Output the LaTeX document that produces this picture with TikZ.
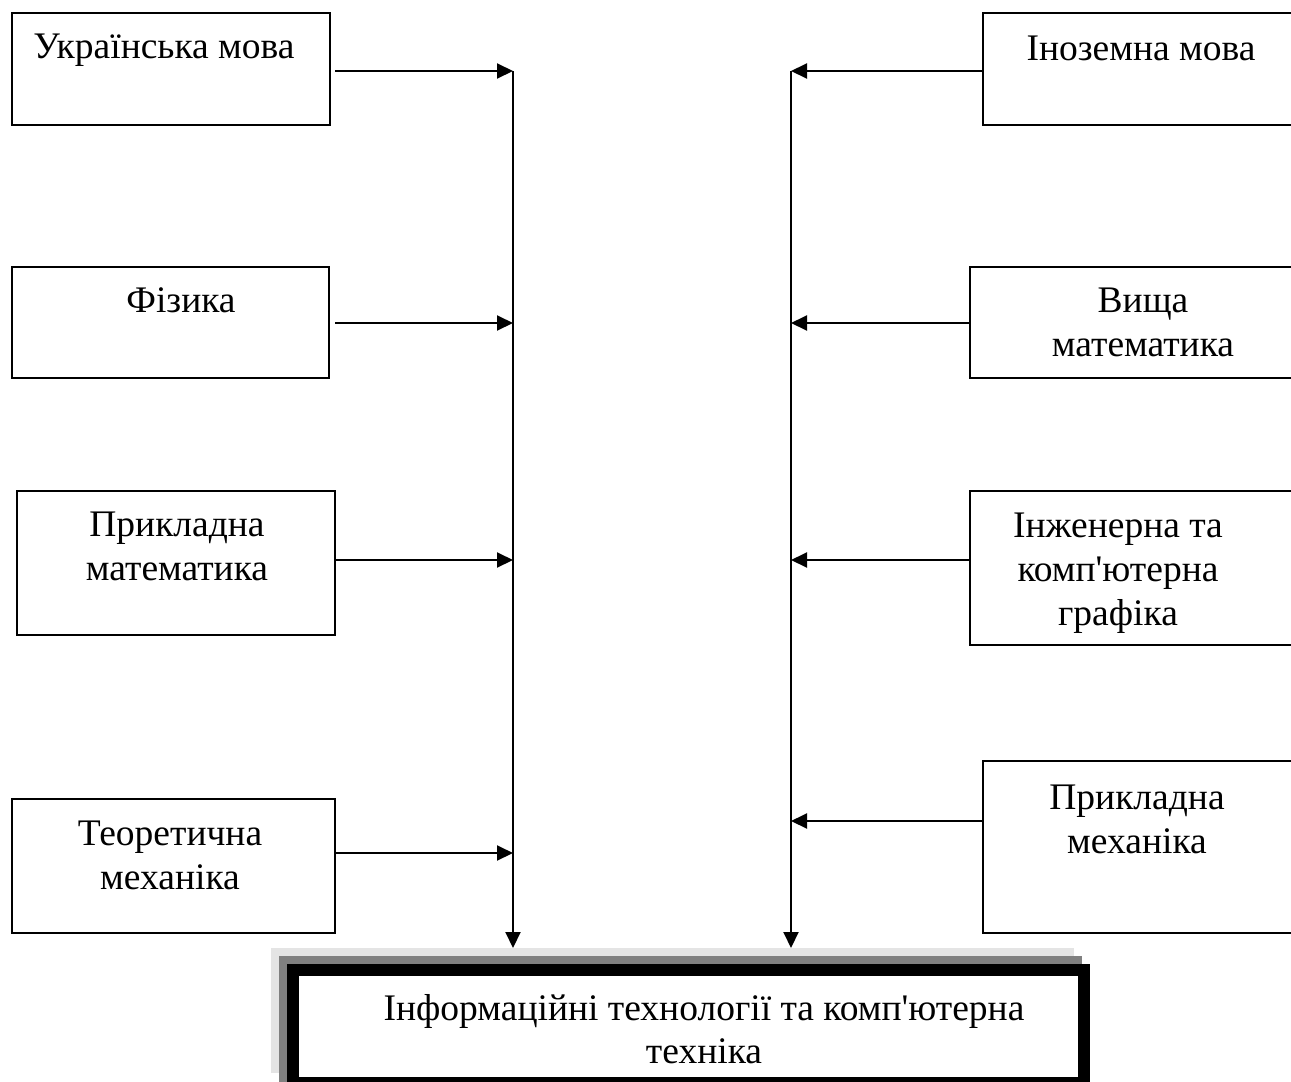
\documentclass[tikz,border=0pt]{standalone}
\usepackage{fontspec}
\setmainfont{Liberation Serif}
\usetikzlibrary{arrows.meta}
\definecolor{shlight}{HTML}{E4E4E4}
\definecolor{shdark}{HTML}{808080}
\begin{document}
\begin{tikzpicture}[x=1pt,y=-1pt,
  box/.style={draw, line width=2pt, inner sep=0pt, outer sep=0pt},
  lbl/.style={inner sep=0pt, anchor=north, align=center, font=\fontsize{37.5}{44}\selectfont, execute at begin node=\strut},
  arr/.style={line width=2pt, -{Triangle[length=16pt,width=15pt]}},
  trunk/.style={line width=2pt}]
\useasboundingbox (0,0) rectangle (1291,1082);
\clip (0,0) rectangle (1291,1082);
% left boxes
\node[box, minimum width=318pt, minimum height=112pt] (L1) at (171,69) {};
\node[box, minimum width=317pt, minimum height=111pt] (L2) at (170.5,322.5) {};
\node[box, minimum width=318pt, minimum height=144pt] (L3) at (176,563) {};
\node[box, minimum width=323pt, minimum height=134pt] (L4) at (173.5,866) {};
% right boxes
\node[box, minimum width=317pt, minimum height=112pt] (R1) at (1141.5,69) {};
\node[box, minimum width=330pt, minimum height=111pt] (R2) at (1135,322.5) {};
\node[box, minimum width=330pt, minimum height=154pt] (R3) at (1135,568) {};
\node[box, minimum width=317pt, minimum height=172pt] (R4) at (1141.5,847) {};
% labels
\node[lbl] (tL1) at (164,27) {Українська мова};
\node[lbl] (tL2) at (181,281) {Фізика};
\node[lbl] (tL3) at (177,512) {Прикладна\\математика};
\node[lbl] (tL4) at (170,821) {Теоретична\\механіка};
\node[lbl] (tR1) at (1141,29) {Іноземна мова};
\node[lbl] (tR2) at (1143,288) {Вища\\математика};
\node[lbl] (tR3) at (1118,513) {Інженерна та\\комп\textquotesingle ютерна\\графіка};
\node[lbl] (tR4) at (1137,785) {Прикладна\\механіка};
% bottom box with shadows
\node[fill=shlight, inner sep=0pt, outer sep=0pt, minimum width=803pt, minimum height=125pt] (S1) at (672.5,1010.5) {};
\node[fill=shdark, inner sep=0pt, outer sep=0pt, minimum width=803pt, minimum height=134pt] (S2) at (680.5,1023) {};
\node[draw, line width=12pt, fill=white, inner sep=0pt, outer sep=0pt, minimum width=791pt, minimum height=113pt] (B) at (688.5,1026.5) {};
\node[lbl, font=\fontsize{37.5}{43}\selectfont] (tB) at (704,994) {Інформаційні технології та комп\textquotesingle ютерна\\техніка};
% trunk coordinates
\coordinate (a1) at (513,71);
\coordinate (a2) at (513,323);
\coordinate (a3) at (513,560);
\coordinate (a4) at (513,853);
\coordinate (b1) at (791,71);
\coordinate (b2) at (791,323);
\coordinate (b3) at (791,560);
\coordinate (b4) at (791,821);
% trunks
\draw[trunk] (a1) -- (a4);
\draw[arr] (a4) -- (a4 |- S1.north);
\draw[trunk] (b1) -- (b4);
\draw[arr] (b4) -- (b4 |- S1.north);
% left arrows
\draw[arr] ([xshift=5pt]L1.east |- a1) -- (a1);
\draw[arr] ([xshift=6pt]L2.east |- a2) -- (a2);
\draw[arr] (L3.east |- a3) -- (a3);
\draw[arr] (L4.east |- a4) -- (a4);
% right arrows
\draw[arr] (R1.west |- b1) -- (b1);
\draw[arr] (R2.west |- b2) -- (b2);
\draw[arr] (R3.west |- b3) -- (b3);
\draw[arr] (R4.west |- b4) -- (b4);
\end{tikzpicture}
\end{document}
